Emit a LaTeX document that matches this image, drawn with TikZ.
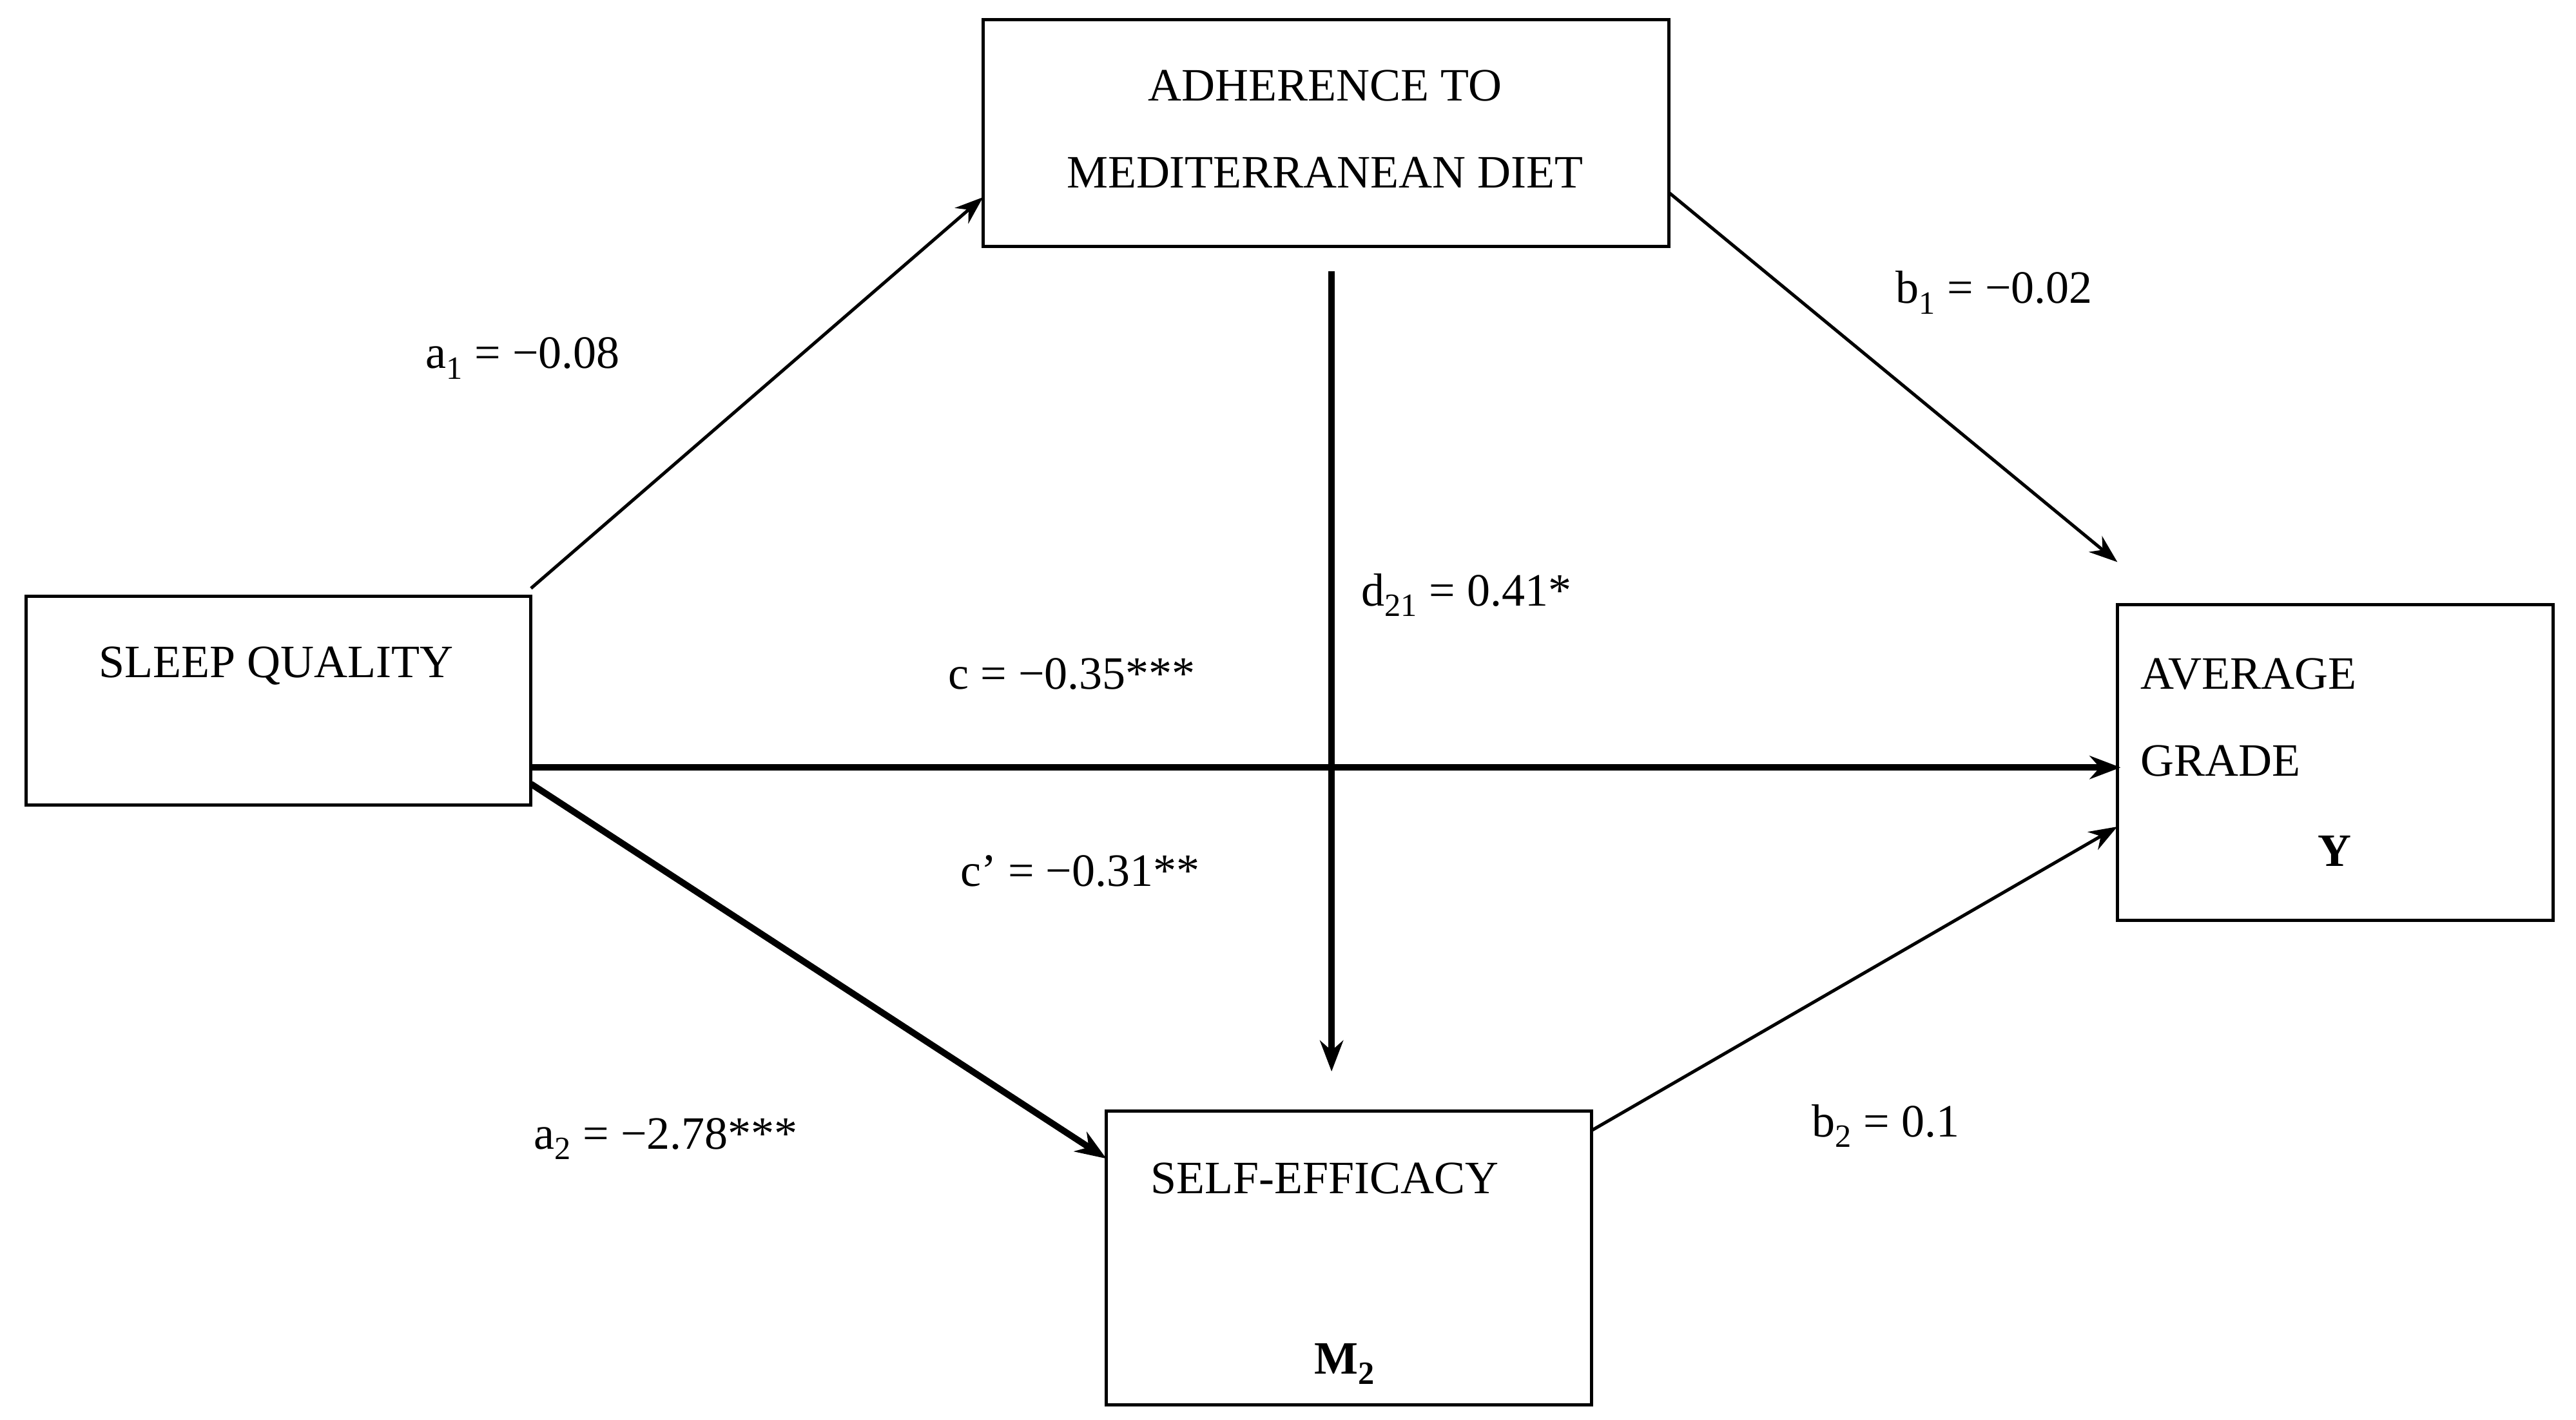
\documentclass[tikz,border=0pt]{standalone}
\usepackage{fontspec}
\setmainfont{Liberation Serif}
\usetikzlibrary{arrows.meta}
\begin{document}
\begin{tikzpicture}[x=1.2755pt,y=-1.2755pt,
  box/.style={draw,line width=2.5pt},
  txt/.style={inner sep=0pt,font=\fontsize{36}{43}\selectfont},
  thin/.style={line width=2.5pt,-{Stealth[length=22pt,width=16pt]}},
  thick/.style={line width=5pt,-{Stealth[length=24pt,width=18pt]}}]
\useasboundingbox (0,0) rectangle (1567,864);
\draw[box] (598,12) rectangle (1015,150);
\draw[box] (16,363) rectangle (323,490);
\draw[box] (1288,368) rectangle (1553,560);
\draw[box] (673,676) rectangle (968,855);
\node[txt] (adh1) at (806,52) {ADHERENCE TO};
\node[txt] (adh2) at (806,105) {MEDITERRANEAN DIET};
\node[txt] (sq) at (168,405) {SLEEP QUALITY};
\node[txt,anchor=west] (ag1) at (1302,410) {AVERAGE};
\node[txt,anchor=west] (ag2) at (1302,463) {GRADE};
\node[txt] (y) at (1420,518) {\textbf{Y}};
\node[txt] (se) at (806,717) {SELF-EFFICACY};
\node[txt] (m2) at (818,830) {\textbf{M\textsubscript{2}}};
\coordinate (s1) at (323,358); \coordinate (d1) at (598,120);
\coordinate (d2) at (1015,117); \coordinate (g1) at (1288,342);
\coordinate (v1) at (810,165); \coordinate (v2) at (810,652);
\coordinate (s2) at (323,467); \coordinate (g2) at (1290,467);
\coordinate (s3) at (323,477); \coordinate (e1) at (673,705);
\coordinate (e2) at (968,688); \coordinate (g3) at (1288,503);
\draw[thin] (s1) -- (d1);
\draw[thin] (d2) -- (g1);
\draw[thick] (v1) -- (v2);
\draw[thick] (s2) -- (g2);
\draw[thick] (s3) -- (e1);
\draw[thin] (e2) -- (g3);
\node[txt] (la1) at (318,218) {a\textsubscript{1} = −0.08};
\node[txt] (lb1) at (1213,178) {b\textsubscript{1} = −0.02};
\node[txt] (ld) at (892,362) {d\textsubscript{21} = 0.41*};
\node[txt] (lc) at (652,410) {c = −0.35***};
\node[txt] (lcp) at (657,530) {c’ = −0.31**};
\node[txt] (la2) at (405,693) {a\textsubscript{2} = −2.78***};
\node[txt] (lb2) at (1147,685) {b\textsubscript{2} = 0.1};
\end{tikzpicture}
\end{document}
